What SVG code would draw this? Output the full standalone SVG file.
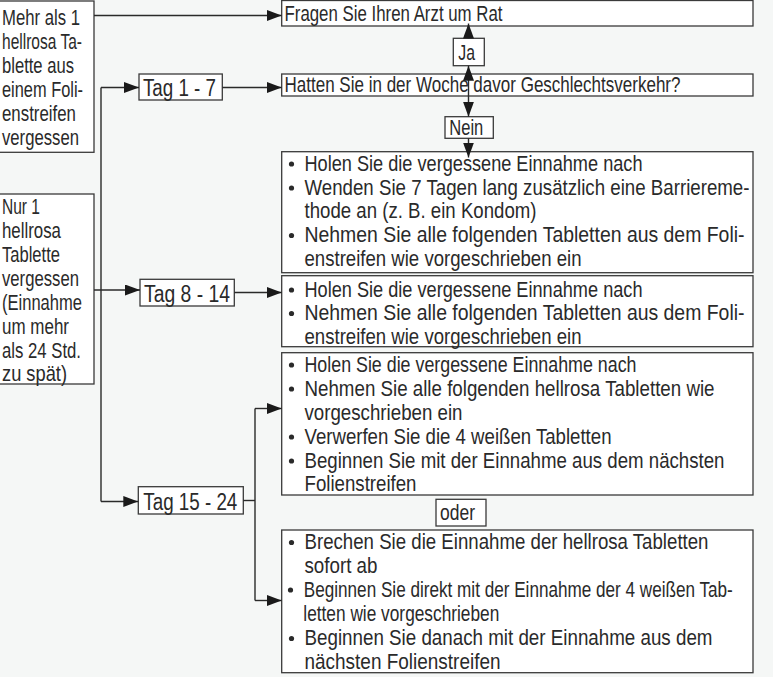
<svg xmlns="http://www.w3.org/2000/svg" width="773" height="677" viewBox="0 0 773 677">
<defs>
<style>
.bg{fill:#f5f7f6}
.box{fill:#ffffff;stroke:#3a3a3a;stroke-width:1.3}
.t{font-family:"Liberation Sans",Arial,sans-serif;font-size:21.5px;fill:#2a2a2a}
.tag{font-family:"Liberation Sans",Arial,sans-serif;font-size:24.5px;fill:#2a2a2a}
.lbl{font-family:"Liberation Sans",Arial,sans-serif;font-size:22.5px;fill:#2a2a2a}
.c{fill:none;stroke:#2a2a2a;stroke-width:1.4}
.b{fill:#2a2a2a}
</style>
<marker id="ah" markerWidth="15" markerHeight="11" refX="15" refY="5.5" orient="auto" markerUnits="userSpaceOnUse"><path d="M0,0 L15,5.5 L0,11 z" fill="#1a1a1a"/></marker>
</defs>
<rect class="bg" x="0" y="0" width="773" height="677"/>

<g id="mehr">
<rect class="box" x="-1" y="1" width="95" height="151.3"/>
<g transform="scale(0.84,1)">
<text class="t" x="2.38" y="25.5" textLength="92.86" lengthAdjust="spacingAndGlyphs">Mehr als 1</text>
<text class="t" x="2.38" y="49.5" textLength="95.24" lengthAdjust="spacingAndGlyphs">hellrosa Ta-</text>
<text class="t" x="2.38" y="73.5" textLength="85.71" lengthAdjust="spacingAndGlyphs">blette aus</text>
<text class="t" x="2.38" y="97.5" textLength="96.43" lengthAdjust="spacingAndGlyphs">einem Foli-</text>
<text class="t" x="2.38" y="121.5" textLength="88.1" lengthAdjust="spacingAndGlyphs">enstreifen</text>
<text class="t" x="2.38" y="145.5" textLength="91.67" lengthAdjust="spacingAndGlyphs">vergessen</text>
</g>
</g>

<g id="nur">
<rect class="box" x="-1" y="194" width="95" height="190"/>
<g transform="scale(0.84,1)">
<text class="t" x="2.38" y="214" textLength="45.24" lengthAdjust="spacingAndGlyphs">Nur 1</text>
<text class="t" x="2.38" y="238" textLength="70.24" lengthAdjust="spacingAndGlyphs">hellrosa</text>
<text class="t" x="2.38" y="262" textLength="69.05" lengthAdjust="spacingAndGlyphs">Tablette</text>
<text class="t" x="2.38" y="286" textLength="91.67" lengthAdjust="spacingAndGlyphs">vergessen</text>
<text class="t" x="2.38" y="310" textLength="95.24" lengthAdjust="spacingAndGlyphs">(Einnahme</text>
<text class="t" x="2.38" y="334" textLength="79.76" lengthAdjust="spacingAndGlyphs">um mehr</text>
<text class="t" x="2.38" y="358" textLength="94.05" lengthAdjust="spacingAndGlyphs">als 24 Std.</text>
<text class="t" x="2.38" y="381.5" textLength="77.38" lengthAdjust="spacingAndGlyphs">zu spät)</text>
</g>
</g>

<g id="tag1">
<rect class="box" x="139" y="74" width="83.3" height="26"/>
<text class="tag" transform="scale(0.84,1)" x="170.24" y="96.5" textLength="86.9" lengthAdjust="spacingAndGlyphs">Tag 1 - 7</text>
</g>
<g id="tag8">
<rect class="box" x="140" y="279.3" width="94.3" height="26.7"/>
<text class="tag" transform="scale(0.84,1)" x="171.43" y="302.5" textLength="102.38" lengthAdjust="spacingAndGlyphs">Tag 8 - 14</text>
</g>
<g id="tag15">
<rect class="box" x="138.3" y="486.7" width="105" height="27.3"/>
<text class="tag" transform="scale(0.84,1)" x="170.6" y="510" textLength="111.9" lengthAdjust="spacingAndGlyphs">Tag 15 - 24</text>
</g>

<g id="arzt">
<rect class="box" x="281.7" y="0.5" width="471.3" height="25.5"/>
<text class="t" transform="scale(0.84,1)" x="338.69" y="20.7" textLength="259.52" lengthAdjust="spacingAndGlyphs">Fragen Sie Ihren Arzt um Rat</text>
</g>
<g id="frage">
<rect class="box" x="281.7" y="74" width="471.3" height="22"/>
<text class="t" transform="scale(0.84,1)" x="338.69" y="92.5" textLength="471.43" lengthAdjust="spacingAndGlyphs">Hatten Sie in der Woche davor Geschlechtsverkehr?</text>
</g>
<g id="ja">
<rect class="box" x="453.3" y="38.3" width="31" height="27.4"/>
<text class="lbl" transform="scale(0.84,1)" x="545.6" y="60" textLength="19.88" lengthAdjust="spacingAndGlyphs">Ja</text>
</g>
<g id="nein">
<rect class="box" x="445" y="116.7" width="48.3" height="21.6"/>
<text class="lbl" transform="scale(0.84,1)" x="534.88" y="135.3" textLength="40.48" lengthAdjust="spacingAndGlyphs">Nein</text>
</g>

<g id="box1">
<rect class="box" x="281.7" y="151.7" width="471.3" height="121"/>
<circle class="b" cx="291.5" cy="164" r="2.6"/>
<circle class="b" cx="291.5" cy="188" r="2.6"/>
<circle class="b" cx="291.5" cy="235.5" r="2.6"/>
<g transform="scale(0.84,1)">
<text class="t" x="362.5" y="171" textLength="402.38" lengthAdjust="spacingAndGlyphs">Holen Sie die vergessene Einnahme nach</text>
<text class="t" x="362.5" y="195" textLength="529.76" lengthAdjust="spacingAndGlyphs">Wenden Sie 7 Tagen lang zusätzlich eine Barriereme-</text>
<text class="t" x="362.5" y="218.5" textLength="276.19" lengthAdjust="spacingAndGlyphs">thode an (z. B. ein Kondom)</text>
<text class="t" x="362.5" y="242.5" textLength="523.81" lengthAdjust="spacingAndGlyphs">Nehmen Sie alle folgenden Tabletten aus dem Foli-</text>
<text class="t" x="362.5" y="266" textLength="329.76" lengthAdjust="spacingAndGlyphs">enstreifen wie vorgeschrieben ein</text>
</g>
</g>

<g id="box2">
<rect class="box" x="281.7" y="275.7" width="471.3" height="71"/>
<circle class="b" cx="291.5" cy="290" r="2.6"/>
<circle class="b" cx="291.5" cy="313.5" r="2.6"/>
<g transform="scale(0.84,1)">
<text class="t" x="362.5" y="297" textLength="402.38" lengthAdjust="spacingAndGlyphs">Holen Sie die vergessene Einnahme nach</text>
<text class="t" x="362.5" y="320.5" textLength="523.81" lengthAdjust="spacingAndGlyphs">Nehmen Sie alle folgenden Tabletten aus dem Foli-</text>
<text class="t" x="362.5" y="344" textLength="329.76" lengthAdjust="spacingAndGlyphs">enstreifen wie vorgeschrieben ein</text>
</g>
</g>

<g id="box3">
<rect class="box" x="281.7" y="352.7" width="471.3" height="142.3"/>
<circle class="b" cx="291.5" cy="365" r="2.6"/>
<circle class="b" cx="291.5" cy="389" r="2.6"/>
<circle class="b" cx="291.5" cy="437" r="2.6"/>
<circle class="b" cx="291.5" cy="461" r="2.6"/>
<g transform="scale(0.84,1)">
<text class="t" x="362.5" y="372" textLength="395.24" lengthAdjust="spacingAndGlyphs">Holen Sie die vergessene Einnahme nach</text>
<text class="t" x="362.5" y="396" textLength="488.1" lengthAdjust="spacingAndGlyphs">Nehmen Sie alle folgenden hellrosa Tabletten wie</text>
<text class="t" x="362.5" y="420" textLength="188.1" lengthAdjust="spacingAndGlyphs">vorgeschrieben ein</text>
<text class="t" x="362.5" y="444" textLength="365.48" lengthAdjust="spacingAndGlyphs">Verwerfen Sie die 4 weißen Tabletten</text>
<text class="t" x="362.5" y="468" textLength="500" lengthAdjust="spacingAndGlyphs">Beginnen Sie mit der Einnahme aus dem nächsten</text>
<text class="t" x="362.5" y="491.5" textLength="133.33" lengthAdjust="spacingAndGlyphs">Folienstreifen</text>
</g>
</g>

<g id="oder">
<rect class="box" x="436" y="499.3" width="50" height="26.7"/>
<text class="lbl" transform="scale(0.84,1)" x="523.81" y="520" textLength="41.67" lengthAdjust="spacingAndGlyphs">oder</text>
</g>

<g id="box4">
<rect class="box" x="281.7" y="530" width="471.3" height="142.7"/>
<circle class="b" cx="291.5" cy="542.5" r="2.6"/>
<circle class="b" cx="290.5" cy="590" r="2.6"/>
<circle class="b" cx="291.5" cy="638.5" r="2.6"/>
<g transform="scale(0.84,1)">
<text class="t" x="362.5" y="549.5" textLength="480.95" lengthAdjust="spacingAndGlyphs">Brechen Sie die Einnahme der hellrosa Tabletten</text>
<text class="t" x="362.5" y="573.5" textLength="86.9" lengthAdjust="spacingAndGlyphs">sofort ab</text>
<text class="t" x="361.67" y="597" textLength="510.71" lengthAdjust="spacingAndGlyphs">Beginnen Sie direkt mit der Einnahme der 4 weißen Tab-</text>
<text class="t" x="361.07" y="621.5" textLength="233.33" lengthAdjust="spacingAndGlyphs">letten wie vorgeschrieben</text>
<text class="t" x="362.5" y="645.5" textLength="485.71" lengthAdjust="spacingAndGlyphs">Beginnen Sie danach mit der Einnahme aus dem</text>
<text class="t" x="362.5" y="669" textLength="233.33" lengthAdjust="spacingAndGlyphs">nächsten Folienstreifen</text>
</g>
</g>

<g id="connectors">
<path class="c" d="M94,15.5 H281.7" marker-end="url(#ah)"/>
<path class="c" d="M101,87.5 V501.5"/>
<path class="c" d="M101,87.5 H139" marker-end="url(#ah)"/>
<path class="c" d="M101,501.5 H138.3" marker-end="url(#ah)"/>
<path class="c" d="M222.3,87.5 H281.7" marker-end="url(#ah)"/>
<path class="c" d="M94,290 H140" marker-end="url(#ah)"/>
<path class="c" d="M234.3,292.5 H281.7" marker-end="url(#ah)"/>
<path class="c" d="M243.3,500.5 H255"/>
<path class="c" d="M255,408.5 V600.5"/>
<path class="c" d="M255,408.5 H281.7" marker-end="url(#ah)"/>
<path class="c" d="M255,600.5 H281.7" marker-end="url(#ah)"/>
<path class="c" d="M468.5,88 V65.7" marker-end="url(#ah)"/>
<path class="c" d="M468.5,38.3 V23.5" marker-end="url(#ah)"/>
<path class="c" d="M468.5,88 V116.7" marker-end="url(#ah)"/>
<path class="c" d="M468.5,138.3 V157.5" marker-end="url(#ah)"/>
</g>
</svg>
